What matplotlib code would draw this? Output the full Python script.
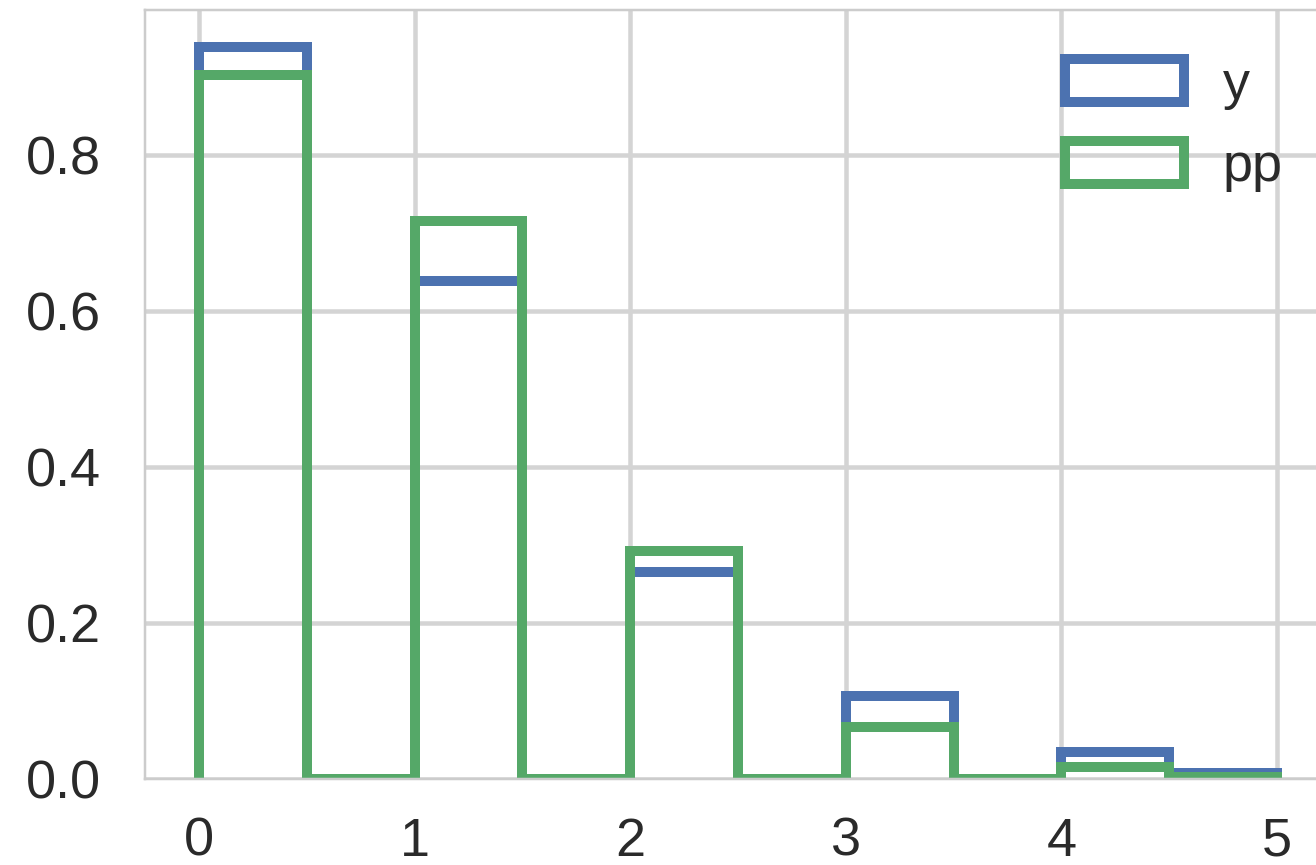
import numpy as np
import matplotlib
matplotlib.use("Agg")
import matplotlib.pyplot as plt

# Histogram bin edges (width 0.5 over 0..5) and density per bin
bin_edges = [0.0, 0.5, 1.0, 1.5, 2.0, 2.5, 3.0, 3.5, 4.0, 4.5, 5.0]
y_density = [0.939, 0.0, 0.639, 0.0, 0.266, 0.0, 0.107, 0.0, 0.034, 0.0073]
pp_density = [0.902, 0.0, 0.716, 0.0, 0.292, 0.0, 0.0665, 0.0, 0.016, 0.003]
series_labels = ["y", "pp"]
series_colors = ["#4C72B0", "#55A868"]

DPI = 100
px = 72.0 / DPI  # points per pixel

plt.rcParams["font.family"] = ["Liberation Sans", "DejaVu Sans"]

fig = plt.figure(figsize=(13.16, 8.65), dpi=DPI, facecolor="white")
W, H = 1316, 865
left, right, top, bottom = 145, 1331, 10, 779
ax = fig.add_axes([left / W, (H - bottom) / H, (right - left) / W, (bottom - top) / H])
ax.set_facecolor("white")

edges = np.array(bin_edges)
for vals, lab, col in zip([y_density, pp_density], series_labels, series_colors):
    ax.hist(edges[:-1], bins=edges, weights=vals, histtype="step",
            color=col, linewidth=10 * px, label=lab)

ax.set_xticks([0, 1, 2, 3, 4, 5])
ax.set_yticks([0.0, 0.2, 0.4, 0.6, 0.8])
ax.set_yticklabels(["0.0", "0.2", "0.4", "0.6", "0.8"])
ax.grid(True, color="#d4d4d4", linewidth=4.5 * px)
ax.set_axisbelow(True)
for s in ax.spines.values():
    s.set_color("#cccccc")
    s.set_linewidth(2.5 * px)

fs = 54 * px
ax.tick_params(axis="both", length=0, labelsize=fs, labelcolor="#2a2a2a")
ax.tick_params(axis="x", pad=38 * px)
ax.tick_params(axis="y", pad=44 * px)

leg = ax.legend(loc="upper right", frameon=False, fontsize=fs,
                handlelength=2.2, handleheight=0.85, labelspacing=0.58,
                handletextpad=0.72, borderaxespad=0.5)
for t in leg.get_texts():
    t.set_color("#2a2a2a")

fig.savefig("out.png", dpi=DPI)
